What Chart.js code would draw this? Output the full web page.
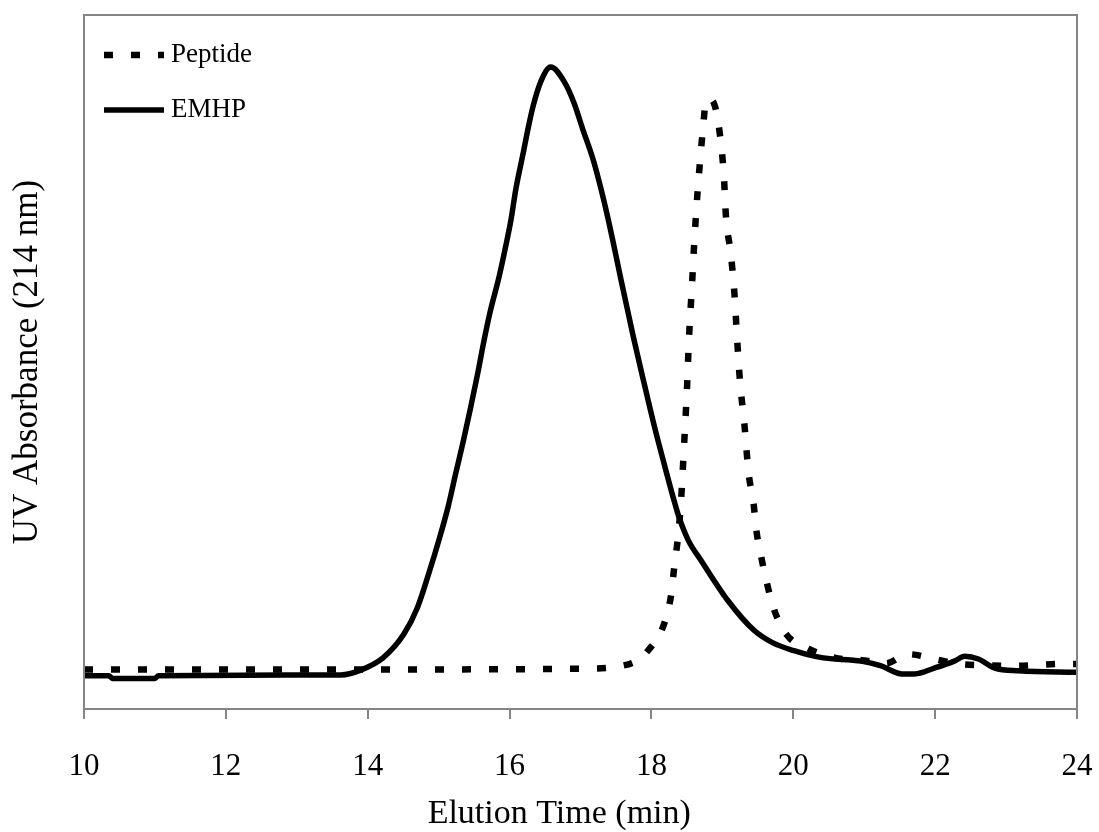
<!DOCTYPE html>
<html>
<head>
<meta charset="utf-8">
<script src="https://cdn.jsdelivr.net/npm/chart.js@4/dist/chart.umd.min.js"></script>
<style>
  html, body { margin: 0; padding: 0; background: #fff; }
  #wrap { width: 1099px; height: 832px; position: relative; }
</style>
</head>
<body>
<div id="wrap"><canvas id="chart"></canvas></div>
<script>
// Elution profiles (absorbance in arbitrary units, 0-100)
const xTicks = [10, 12, 14, 16, 18, 20, 22, 24];

const peptideTime = [10, 14, 17.0, 17.57, 17.8, 17.95, 18.18, 18.28, 18.32, 18.38, 18.42, 18.46, 18.5, 18.53, 18.57, 18.6, 18.64, 18.69, 18.73, 18.77, 18.84, 18.91, 18.97, 19.02, 19.05, 19.12, 19.17, 19.21, 19.25, 19.31, 19.37, 19.44, 19.48, 19.55, 19.62, 19.72, 19.9, 20.21, 20.58, 21.0, 21.31, 21.62, 21.99, 22.33, 22.7, 23.08, 23.83, 24];
const peptideAbs  = [5.7, 5.7, 5.8, 6.2, 7.0, 8.4, 12.3, 16.6, 20.3, 25.3, 30.4, 38, 45.9, 53.5, 60.7, 66.5, 73, 79.5, 84, 87.7, 87.8, 86.3, 82.4, 77, 71.1, 65.5, 59.9, 53, 47, 41.1, 34, 29.6, 25.7, 21.8, 18.5, 14.6, 10.8, 8.7, 7.4, 7.0, 6.6, 7.9, 7.2, 6.5, 6.3, 6.2, 6.5, 6.5];

const emhpTime = [10, 10.35, 10.4, 11.0, 11.05, 13.62, 13.9, 14.22, 14.51, 14.7, 14.86, 15.0, 15.13, 15.24, 15.35, 15.45, 15.55, 15.64, 15.73, 15.85, 15.95, 16.02, 16.09, 16.19, 16.26, 16.33, 16.44, 16.58, 16.77, 16.91, 17.03, 17.18, 17.29, 17.39, 17.47, 17.57, 17.68, 17.75, 17.9, 18.04, 18.18, 18.32, 18.39, 18.52, 18.7, 19.08, 19.45, 19.7, 20.01, 20.4, 20.96, 21.24, 21.53, 21.71, 21.99, 22.27, 22.42, 22.61, 22.84, 23.18, 24];
const emhpAbs  = [4.8, 4.8, 4.4, 4.4, 4.8, 4.9, 5.6, 7.4, 10.8, 14.6, 19.5, 24.2, 29.0, 33.9, 38.7, 43.4, 48.3, 53.1, 57.4, 62.2, 66.9, 70.5, 75.0, 80.0, 83.6, 86.8, 90.4, 92.5, 90.4, 87.3, 83.6, 79.1, 74.9, 70.6, 66.8, 61.9, 56.7, 53.4, 46.8, 40.8, 35.3, 30.0, 27.6, 24.3, 21.4, 15.6, 11.3, 9.6, 8.4, 7.4, 6.9, 6.2, 5.05, 5.05, 5.9, 6.9, 7.6, 7.2, 5.9, 5.5, 5.3];

const seriesNames = ['Peptide', 'EMHP'];

const SERIF = "'Liberation Serif', 'Times New Roman', serif";
const GREY = '#858585';

const toPoints = (xs, ys) => xs.map((x, i) => ({ x: x, y: ys[i] }));

// box round the plot area
const frame = {
  id: 'frame',
  afterDraw(chart) {
    const { ctx, chartArea: a } = chart;
    ctx.save();
    ctx.strokeStyle = GREY;
    ctx.lineWidth = 2;
    ctx.strokeRect(a.left, a.top, a.right - a.left, a.bottom - a.top);
    ctx.restore();
  }
};

// legend sits inside the plot, top left
const innerLegend = {
  id: 'innerLegend',
  afterDraw(chart) {
    const { ctx, chartArea: a } = chart;
    ctx.save();
    ctx.font = '27px ' + SERIF;
    ctx.textBaseline = 'middle';
    chart.data.datasets.forEach((ds, i) => {
      const y = a.top + 40 + i * 55;
      const x0 = a.left + 20;
      ctx.beginPath();
      ctx.strokeStyle = ds.borderColor;
      ctx.lineWidth = ds.borderWidth;
      ctx.setLineDash(ds.borderDash || []);
      ctx.moveTo(x0, y);
      ctx.lineTo(x0 + 60, y);
      ctx.stroke();
      ctx.setLineDash([]);
      ctx.fillStyle = '#000';
      ctx.fillText(ds.label, x0 + 67, y);
    });
    ctx.restore();
  }
};

new Chart(document.getElementById('chart'), {
  type: 'line',
  data: {
    datasets: [
      {
        label: seriesNames[0],
        data: toPoints(peptideTime, peptideAbs),
        borderColor: '#000',
        borderWidth: 6.5,
        borderDash: [9, 18],
        pointRadius: 0,
        cubicInterpolationMode: 'monotone',
        fill: false
      },
      {
        label: seriesNames[1],
        data: toPoints(emhpTime, emhpAbs),
        borderColor: '#000',
        borderWidth: 5.5,
        pointRadius: 0,
        cubicInterpolationMode: 'monotone',
        fill: false
      }
    ]
  },
  options: {
    responsive: true,
    maintainAspectRatio: false,
    animation: false,
    layout: { padding: { top: 15, right: 1, left: 0, bottom: 0 } },
    plugins: {
      legend: { display: false },
      tooltip: { enabled: false }
    },
    scales: {
      x: {
        type: 'linear',
        min: xTicks[0],
        max: xTicks[xTicks.length - 1],
        afterBuildTicks: (scale) => { scale.ticks = xTicks.map(v => ({ value: v })); },
        // the big tick padding should not push the right edge in
        afterFit: (scale) => { scale.paddingRight = 22; },
        border: { display: false },
        grid: {
          display: true,
          drawOnChartArea: false,
          drawTicks: true,
          tickLength: 10,
          color: GREY,
          lineWidth: 2
        },
        ticks: {
          color: '#000',
          padding: 29,
          maxRotation: 0,
          font: { family: SERIF, size: 31, lineHeight: 1.2 }
        },
        title: {
          display: true,
          // trailing no-break spaces nudge the title a little left, as in the original
          text: 'Elution Time (min)\u00a0\u00a0\u00a0\u00a0\u00a0',
          color: '#000',
          padding: { top: -21, bottom: -2 },
          font: { family: SERIF, size: 34, lineHeight: 1.2 }
        }
      },
      y: {
        type: 'linear',
        min: 0,
        max: 100,
        border: { display: false },
        grid: { display: false, drawTicks: false },
        ticks: { display: false },
        title: {
          display: true,
          text: 'UV Absorbance (214 nm)',
          color: '#000',
          padding: { top: 7, bottom: 35 },
          font: { family: SERIF, size: 35, lineHeight: 1.2 }
        }
      }
    }
  },
  plugins: [frame, innerLegend]
});
</script>
</body>
</html>
